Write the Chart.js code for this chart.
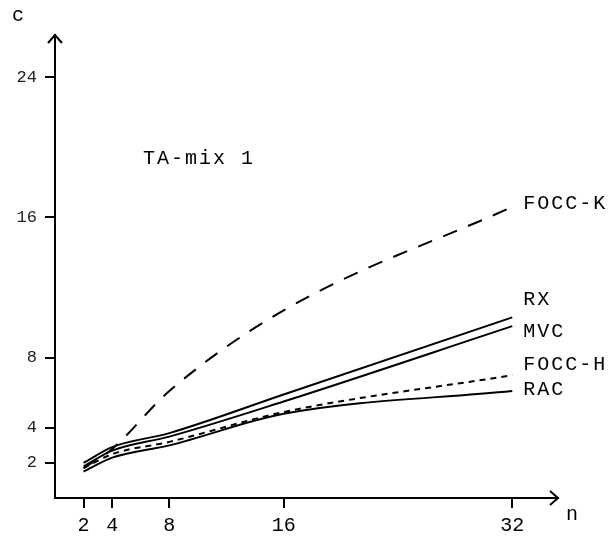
<!DOCTYPE html>
<html>
<head>
<meta charset="utf-8">
<script src="https://cdn.jsdelivr.net/npm/chart.js@4"></script>
<style>
  body { margin: 0; background: #fff; }
  #wrap { width: 615px; height: 545px; }
</style>
</head>
<body>
<div id="wrap"><canvas id="chart" width="615" height="545"></canvas></div>
<script>
// values
const nValues = [2, 4, 8, 16, 32];
const xTicks = [2, 4, 8, 16, 32];
const yTicks = [2, 4, 8, 16, 24];
const rx = [2.0, 2.9, 3.7, 5.9, 10.3];
const mvc = [1.8, 2.7, 3.5, 5.5, 9.8];
const foccH = [1.7, 2.5, 3.2, 4.9, 7.0];
const rac = [1.5, 2.3, 3.0, 4.8, 6.1];
const foccK = [1.7, 2.8, 6.1, 10.7, 16.6];

const FONT = '"Liberation Mono", "DejaVu Sans Mono", monospace';

const toPts = arr => arr.map((v, i) => ({ x: nValues[i], y: v }));

function series(label, data, dash) {
  return {
    label: label,
    data: toPts(data),
    borderColor: '#000',
    borderWidth: 2,
    borderDash: dash,
    pointRadius: 0,
    fill: false,
    cubicInterpolationMode: 'monotone'
  };
}

// text labels at the right end of each curve, plus title, axis names and arrows
const endLabels = [
  { text: 'FOCC-K', y: 16.8 },
  { text: 'RX', y: 11.3 },
  { text: 'MVC', y: 9.5 },
  { text: 'FOCC-H', y: 7.6 },
  { text: 'RAC', y: 6.2 }
];

const annotate = {
  id: 'annotate',
  afterDraw(chart) {
    const ctx = chart.ctx;
    const xs = chart.scales.x, ys = chart.scales.y;
    const a = chart.chartArea;
    ctx.save();
    ctx.fillStyle = '#000';
    ctx.strokeStyle = '#000';
    ctx.lineWidth = 2;
    ctx.letterSpacing = '2px';
    ctx.font = '20px ' + FONT;
    ctx.textBaseline = 'middle';
    ctx.textAlign = 'left';
    endLabels.forEach(l => {
      ctx.fillText(l.text, xs.getPixelForValue(32) + 11, ys.getPixelForValue(l.y));
    });
    ctx.fillText('TA-mix 1', 143, 159);
    ctx.fillText('n', 566, 515);
    ctx.fillText('c', 12, 16);
    // arrow heads
    ctx.beginPath();
    ctx.moveTo(a.right - 8, a.bottom - 7);
    ctx.lineTo(a.right, a.bottom);
    ctx.lineTo(a.right - 8, a.bottom + 7);
    ctx.moveTo(a.left - 7, a.top + 8);
    ctx.lineTo(a.left, a.top);
    ctx.lineTo(a.left + 7, a.top + 8);
    ctx.stroke();
    ctx.restore();
  }
};

new Chart(document.getElementById('chart'), {
  type: 'line',
  data: {
    datasets: [
      series('FOCC-K', foccK, [15, 12]),
      series('RX', rx, []),
      series('MVC', mvc, []),
      series('FOCC-H', foccH, [6, 5]),
      series('RAC', rac, [])
    ]
  },
  options: {
    responsive: false,
    animation: false,
    layout: { padding: { top: 35, right: 57, left: 0, bottom: 0 } },
    plugins: {
      legend: { display: false },
      tooltip: { enabled: false }
    },
    scales: {
      x: {
        type: 'linear',
        min: 0,
        max: 35.2,
        afterFit(s) { s.height = 47; },
        afterBuildTicks(s) { s.ticks = xTicks.map(v => ({ value: v })); },
        grid: { drawOnChartArea: false, drawTicks: true, tickLength: 10, color: '#000', lineWidth: 2 },
        border: { display: true, color: '#000', width: 2 },
        ticks: { color: '#000', font: { family: FONT, size: 20 }, padding: 6, maxRotation: 0 }
      },
      y: {
        type: 'linear',
        min: 0,
        max: 26.4,
        afterFit(s) { s.width = 55; },
        afterBuildTicks(s) { s.ticks = yTicks.map(v => ({ value: v })); },
        grid: { drawOnChartArea: false, drawTicks: true, tickLength: 10, color: '#000', lineWidth: 2 },
        border: { display: true, color: '#000', width: 2 },
        ticks: { color: '#222', font: { family: FONT, size: 17 }, padding: 8 }
      }
    }
  },
  plugins: [annotate]
});
</script>
</body>
</html>
